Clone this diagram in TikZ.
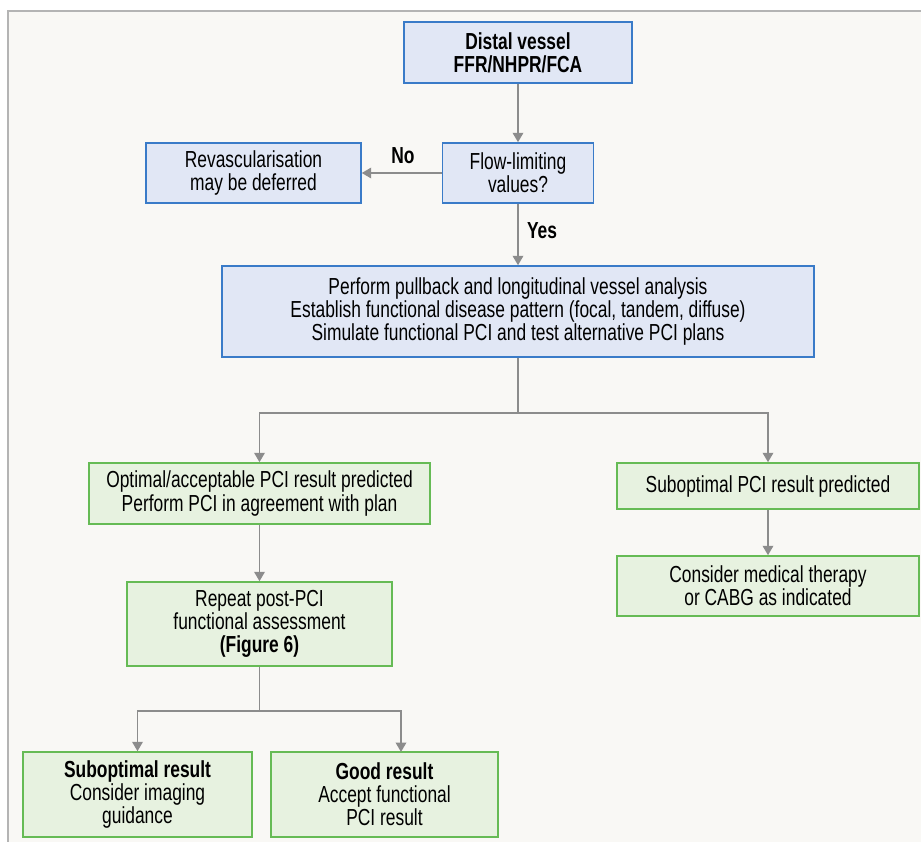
\documentclass[tikz,border=0pt]{standalone}
\usepackage{fontspec}
\setmainfont{Liberation Sans}[FakeStretch=0.75]
\usetikzlibrary{arrows.meta}

\definecolor{boxblue}{HTML}{E1E7F5}
\definecolor{lineblue}{HTML}{3A7BC8}
\definecolor{boxgreen}{HTML}{E7F2E0}
\definecolor{linegreen}{HTML}{66BB55}
\definecolor{arrowgray}{HTML}{8C8C8C}
\definecolor{paper}{HTML}{F9F8F5}
\definecolor{framegray}{HTML}{B4B4B4}

\tikzset{
	chartbox/.style={draw, line width=0.85pt, align=center, inner sep=0pt,
		font=\fontsize{13.2pt}{13.1pt}\selectfont},
	bluebox/.style={chartbox, fill=boxblue, draw=lineblue},
	greenbox/.style={chartbox, fill=boxgreen, draw=linegreen},
	conn/.style={draw=arrowgray, line width=1.1pt},
	flowarrow/.style={conn, -{Triangle[length=0.19cm,width=0.21cm]}},
	answer/.style={font=\fontsize{13.2pt}{13.1pt}\selectfont\bfseries},
}

\begin{document}
\begin{tikzpicture}[x=0.02cm, y=-0.02cm]
		\useasboundingbox (0,0) rectangle (921,842);
		\fill[paper] (8,11) rectangle (921,842);
		\draw[framegray, line width=0.6pt] (921,11) -- (8,11) -- (8,842);
		
		% decision part
		\node[bluebox, minimum width=4.56cm, minimum height=1.22cm] (dist) at (518,52.5) {\bfseries Distal vessel\\\bfseries FFR/NHPR/FCA};
		\node[bluebox, minimum width=3.02cm, minimum height=1.2cm] (flow) at (518,173) {Flow-limiting\\values?};
		\node[bluebox, minimum width=4.3cm, minimum height=1.2cm] (revasc) at (253.5,173) {Revascularisation\\may be deferred};
		\node[bluebox, minimum width=11.84cm, minimum height=1.82cm] (perform) at (518,311.5) {Perform pullback and longitudinal vessel analysis\\Establish functional disease pattern (focal, tandem, diffuse)\\Simulate functional PCI and test alternative PCI plans};
		
		\node[answer] (nolbl) at (403,156) {No};
		\node[answer] (yeslbl) at (542,231) {Yes};
		
		% prediction part
		\node[greenbox, minimum width=6.82cm, minimum height=1.22cm] (optimal) at (259.5,493.5) {Optimal/acceptable PCI result predicted\\Perform PCI in agreement with plan};
		\node[greenbox, minimum width=6.04cm, minimum height=0.92cm] (subpci) at (768,486) {Suboptimal PCI result predicted};
		\node[greenbox, minimum width=6.04cm, minimum height=1.2cm] (medical) at (768,586) {Consider medical therapy\\or CABG as indicated};
		\node[greenbox, minimum width=5.3cm, minimum height=1.68cm] (repeat) at (259.5,624) {Repeat post-PCI\\functional assessment\\\bfseries (Figure 6)};
		
		% outcome part
		\node[greenbox, minimum width=4.58cm, minimum height=1.7cm] (subres) at (137.5,794.5) {\bfseries Suboptimal result\\Consider imaging\\guidance};
		\node[greenbox, minimum width=4.54cm, minimum height=1.7cm] (good) at (384.5,794.5) {\bfseries Good result\\Accept functional\\PCI result};
		
		\coordinate (split1) at (518,413);
		\coordinate (split2) at (259.5,711);
		\coordinate (goodin) at (401,752);
		
		\draw[flowarrow] (dist) -- (flow);
		\draw[flowarrow] (flow) -- (revasc);
		\draw[flowarrow] (flow) -- (perform);
		\draw[conn] (perform) -- (split1);
		\draw[flowarrow] (split1) -| (optimal);
		\draw[flowarrow] (split1) -| (subpci);
		\draw[flowarrow] (optimal) -- (repeat);
		\draw[flowarrow] (subpci) -- (medical);
		\draw[conn] (repeat) -- (split2);
		\draw[flowarrow] (split2) -| (subres);
		\draw[flowarrow] (split2) -| (goodin);
		
	\end{tikzpicture}
\end{document}
